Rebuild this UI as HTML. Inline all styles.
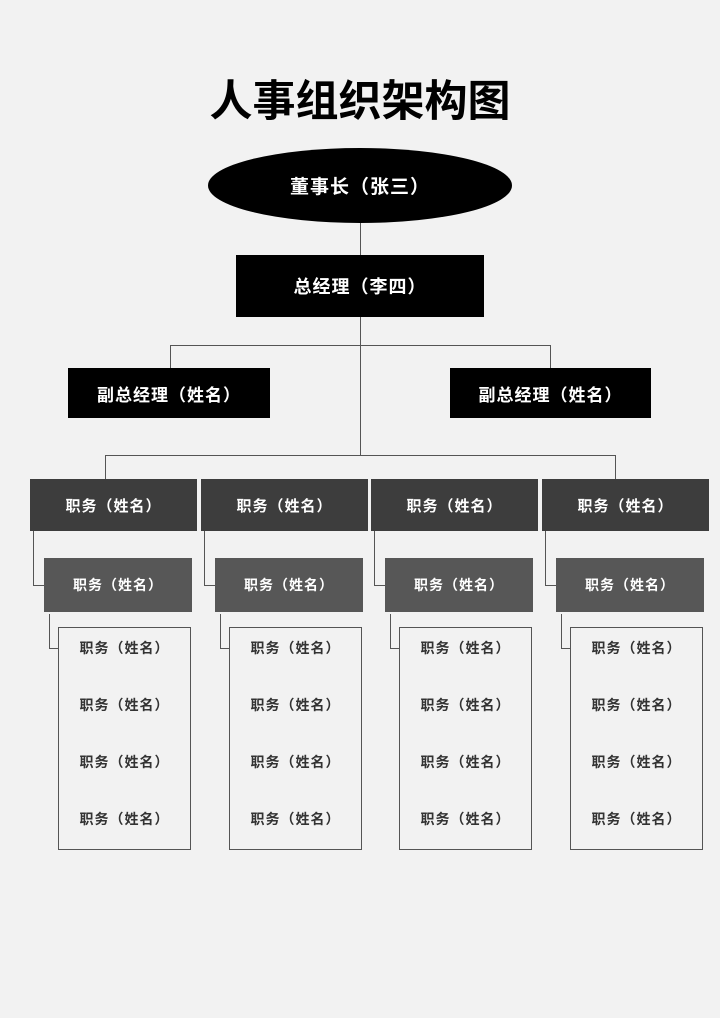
<!DOCTYPE html>
<html><head><meta charset="utf-8"><style>
body{margin:0;background:#f2f2f2;width:720px;height:1018px;position:relative;overflow:hidden;font-family:"Liberation Sans","Noto Sans CJK SC",sans-serif}
.a{position:absolute;box-sizing:border-box;display:flex;align-items:center;justify-content:center;color:#fff;font-weight:bold;letter-spacing:1px}
.l{position:absolute;background:#555}
.t{position:absolute;left:0;width:720px;text-align:center;top:76px;font-size:43px;font-weight:bold;color:#000;line-height:52px}
.w{position:absolute;box-sizing:border-box;border:1px solid #555;background:#f2f2f2}
.w div{position:absolute;left:0;right:0;text-align:center;font-size:14px;font-weight:bold;color:#333;line-height:20px;letter-spacing:1px}
</style></head><body>
<div class="t">人事组织架构图</div>
<div class="a" style="left:208px;top:148px;width:304px;height:75px;border-radius:50%;background:#000;font-size:19px">董事长（张三）</div>
<div class="l" style="left:360px;top:223px;width:1px;height:232px"></div>
<div class="a" style="left:236px;top:255px;width:248px;height:62px;background:#000;font-size:18px">总经理（李四）</div>
<div class="l" style="left:170px;top:345px;width:381px;height:1px"></div>
<div class="l" style="left:170px;top:345px;width:1px;height:23px"></div>
<div class="l" style="left:550px;top:345px;width:1px;height:23px"></div>
<div class="a" style="left:68px;top:368px;width:202px;height:50px;background:#000;font-size:17px">副总经理（姓名）</div>
<div class="a" style="left:450px;top:368px;width:201px;height:50px;background:#000;font-size:17px">副总经理（姓名）</div>
<div class="l" style="left:105px;top:455px;width:511px;height:1px"></div>
<div class="l" style="left:105px;top:455px;width:1px;height:24px"></div>
<div class="l" style="left:615px;top:455px;width:1px;height:24px"></div>

<div id="cols"></div>
<script>
var h='';
for(var i=0;i<4;i++){
 var o=Math.round(i*170.5);
 h+='<div class="a" style="left:'+(30+o)+'px;top:479px;width:167px;height:52px;background:#3d3d3d;font-size:15px">职务（姓名）</div>';
 h+='<div class="l" style="left:'+(33+o)+'px;top:531px;width:1px;height:54px"></div>';
 h+='<div class="l" style="left:'+(33+o)+'px;top:585px;width:11px;height:1px"></div>';
 h+='<div class="a" style="left:'+(44+o)+'px;top:558px;width:148px;height:54px;background:#575757;font-size:14px">职务（姓名）</div>';
 h+='<div class="l" style="left:'+(49+o)+'px;top:614px;width:1px;height:34px"></div>';
 h+='<div class="l" style="left:'+(49+o)+'px;top:648px;width:10px;height:1px"></div>';
 h+='<div class="w" style="left:'+(58+o)+'px;top:627px;width:133px;height:223px">';
 var ys=[10,67,124,181];
 for(var j=0;j<4;j++)h+='<div style="top:'+ys[j]+'px">职务（姓名）</div>';
 h+='</div>';
}
document.getElementById('cols').innerHTML=h;
</script>
</body></html>
